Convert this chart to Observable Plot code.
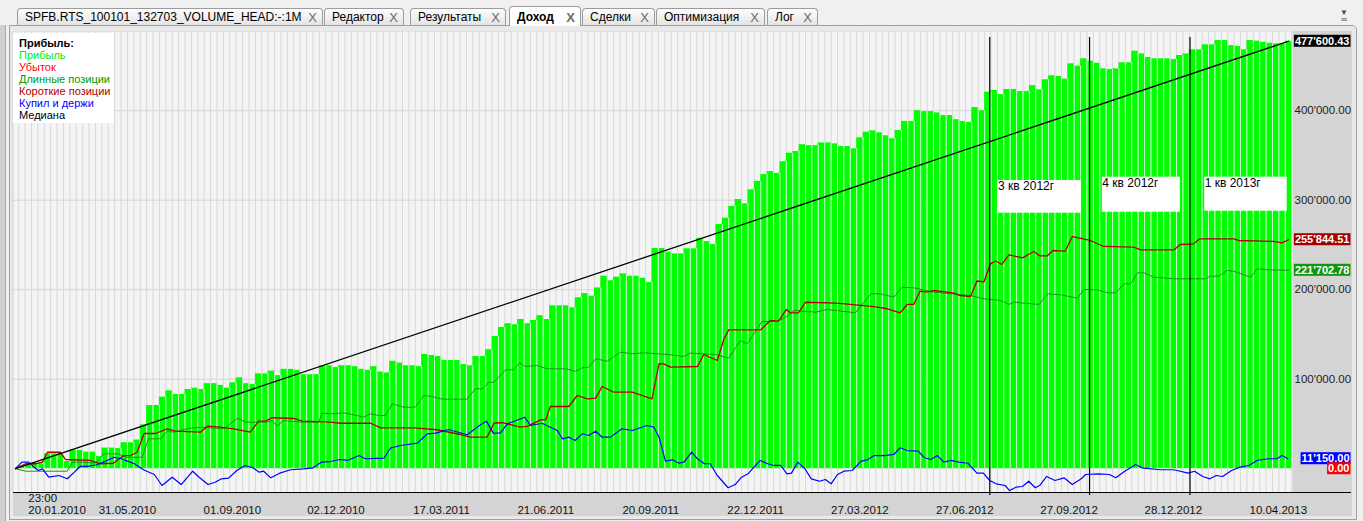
<!DOCTYPE html>
<html><head><meta charset="utf-8">
<script src="https://cdn.jsdelivr.net/npm/d3@7"></script>
<script src="https://cdn.jsdelivr.net/npm/@observablehq/plot@0.6"></script>
<style>
html,body{margin:0;padding:0}
body{width:1363px;height:521px;overflow:hidden;background:#f0f0f0;font-family:"Liberation Sans",Arial,sans-serif;position:relative}
.tab{position:absolute;top:8px;height:17px;border:1px solid #9c9c9c;border-bottom:none;background:linear-gradient(#fdfdfd,#e4e4e4);font-size:12px;line-height:17px;padding-left:7px;box-sizing:border-box;color:#000;border-radius:4px 4px 0 0;white-space:nowrap}
.tab .x{position:absolute;right:5px;top:0;color:#6a6a6a;font-size:13px}
.tab.active{top:6px;height:20px;background:#fff;font-weight:bold;line-height:21px;z-index:2}
#panel{position:absolute;left:9px;top:25px;width:1348px;height:495px;border:1px solid #a0a0a0;box-sizing:border-box;background:#e9e9e9;border-radius:0 5px 0 0}
#leftbar{position:absolute;left:0;top:25px;width:5px;height:496px;background:#d0d0d0;border-right:1px solid #a8a8a8}
#chart{position:absolute;left:13px;top:31px}
#axisline{position:absolute;left:13px;top:492px;width:1338px;height:1px;background:#000}
#legend{position:absolute;left:13px;top:33px;width:101px;height:90px;background:#fff;font-size:11px;line-height:12px;padding:4px 0 0 6px;box-sizing:border-box;white-space:nowrap}
#menu{position:absolute;left:1340px;top:9px;font-size:8px;color:#444;line-height:7px;text-align:center}
</style></head>
<body>
<div id="leftbar"></div>
<div id="panel"></div>
<div id="tabs"></div>
<div id="menu">▼<br>═</div>
<div id="chart"></div>
<div id="axisline"></div>
<div id="legend"></div>
<script>
// ---------- data ----------
const tabNames = ["SPFB.RTS_100101_132703_VOLUME_HEAD:-:1M","Редактор","Результаты","Доход","Сделки","Оптимизация","Лог"];
const activeTab = "Доход";

const legendTitle = "Прибыль:";
const seriesNames = ["Прибыль","Убыток","Длинные позиции","Короткие позиции","Купил и держи","Медиана"];

// Profit bars (thousands), one per period
const profitK = [
 0, 2, 4, 6, 5.5, 16.6, 16.6, 16.6, 8, 20.5,
 20.5, 18.5, 18.5, 13.6, 23, 23, 22.5, 29, 29, 32,
 49, 70.6, 70.6, 80, 87, 83, 83, 88.5, 90, 88.5,
 95, 95, 93, 90, 96, 101.5, 95, 94, 106, 106,
 109, 104, 111, 111, 110, 105, 105, 105, 115, 115,
 113, 115, 115, 114, 111, 110, 114, 108, 107, 120,
 118, 115, 115, 114, 127.6, 126.5, 125.4, 121, 121, 121,
 116.4, 115, 125.4, 125.4, 133, 147.7, 157.8, 162, 160.8, 166.7,
 162, 165.6, 171, 166.7, 182, 182, 182, 179.7, 191, 195.7,
 192.7, 202, 215, 210, 214, 217.7, 215, 215, 212.8, 208,
 246, 246, 242, 240, 240, 245.7, 245.7, 257.5, 253.8, 250.5,
 272.8, 279.9, 293, 300.8, 296, 311.6, 321, 328.7, 332, 330,
 343, 352.5, 354.4, 362, 361, 361, 364, 364, 363, 360,
 360, 357.4, 369.7, 376, 377.5, 375.3, 372, 368.6, 377.9, 388,
 388, 400, 399, 399, 397.6, 394.6, 394.6, 390, 388, 387,
 403.5, 400, 420.7, 422.6, 418, 423.7, 423.7, 421.5, 421.5, 428,
 423.3, 434.5, 439, 438.2, 435.2, 452.4, 449.7, 458, 455.3, 453,
 446.8, 446, 446.8, 453.5, 453.5, 466.5, 463.5, 459.4, 458, 458,
 458, 457.2, 461.7, 463.5, 468, 468, 473.6, 473.6, 478.4, 478.4,
 472.8, 471.7, 468, 478.4, 477.7, 476.5, 475.4, 474.7, 474.7, 477.6
];

// Short positions (dark red)
const shortIdx = [0,1.6,3.1,4.2,5.0,7.0,7.8,11.7,13.3,15.3,16.9,18.0,19.0,20.1,21.9,23.7,25.0,28.9,30.0,32.0,34.1,36.7,38.0,39.1,40.1,43.5,44.8,49.2,50.8,55.5,57.1,62.3,65.9,69.6,71.1,73.7,74.8,76.1,78.9,80.0,82.1,82.9,83.6,86.5,87.8,89.4,90.7,91.7,93.5,96.4,99.5,100.6,101.3,102.4,106.6,107.6,109.7,110.7,111.5,116.5,118.0,119.3,120.5,121.1,122.4,123.5,128.4,134.2,136.3,138.3,139.4,140.4,141.4,142.5,143.6,146.7,147.7,149.3,150.3,151.4,152.4,153.2,154.2,155.3,157.4,159.2,160.1,161.3,162.2,164.1,165.2,166.9,168.0,170.1,174.8,175.9,181.1,182.1,184.2,185.1,190.5,191.2,196.7,198.0,199.0];
const shortVal = [0,5.5,5.5,7.3,18.4,18.4,10.3,9.2,5.5,6.1,14.7,14.7,18.4,39.3,39.3,44.6,41.9,40.8,47.5,46.4,44.6,40.8,53.1,53.1,56.9,56.1,53.1,52.0,50.8,50.8,45.7,45.7,43.5,38.2,35.2,35.2,50.8,51.6,46.4,47.2,54.6,54.6,69.5,69.5,81.8,78.1,78.8,91.8,85.5,85.5,78.1,117.5,117.2,113.4,114.2,127.6,120.9,144.0,155.2,155.2,165.6,164.8,177.9,174.2,174.2,186.0,184.9,181.2,178.7,174.2,183.5,183.5,198.3,197.2,199.1,196.1,193.5,192.4,209.7,208.8,228.9,232.1,228.2,239.0,235.6,242.7,237.9,237.9,243.8,243.0,259.4,256.9,255.0,248.3,247.5,244.6,244.6,250.5,251.3,256.9,256.9,255.0,253.9,252.4,255.8];

// Long positions (green)
const longIdx = [0,1.6,8.1,8.9,10.7,12.5,13.8,16.1,17.2,19.8,20.8,22.7,23.7,24.7,26.8,28.9,32.6,34.7,36.0,39.3,40.1,40.9,41.9,44.6,47.4,47.9,49.8,51.3,53.4,54.4,55.5,56.8,57.8,58.9,60.7,62.5,63.8,64.9,66.7,70.6,71.9,73.0,74.0,74.8,76.6,77.9,78.8,79.7,81.6,83.1,86.0,87.5,88.6,89.6,90.7,92.5,94.6,96.4,98.2,100.3,102.4,104.5,105.5,109.4,111.5,113.3,114.4,116.7,119.1,120.4,121.7,125.1,126.9,131.3,133.7,135.2,137.3,138.6,140.4,143.6,149.3,151.4,154.0,155.3,156.1,160.0,161.3,163.4,166.0,167.0,169.1,170.7,172.0,173.3,174.3,175.4,176.4,177.9,181.1,186.0,186.8,188.1,189.4,190.4,193.1,194.1,195.7,199.0];
const longVal = [0,-2.8,-2.8,7.3,7.3,6.1,16.6,16.6,12.8,12.8,33.4,33.4,41.9,40.8,44.6,46.4,44.6,56.4,52.0,52.0,53.9,47.5,53.9,52.0,52.0,62.0,61.3,62.5,59.4,57.5,61.3,59.4,59.4,72.5,68.7,68.7,81.8,81.0,77.7,77.7,89.3,89.3,96.6,96.6,110.5,110.5,118.3,114.2,115.3,111.6,111.6,108.9,112.7,113.4,122.8,120.1,130.2,128.4,129.5,128.4,127.3,125.4,129.1,127.6,123.5,143.2,139.6,164.5,164.5,169.3,176.8,174.9,177.9,174.2,195.4,195.4,191.6,202.8,202.1,197.2,193.5,189.8,187.9,183.5,186.0,183.5,195.4,194.3,190.5,200.2,199.9,196.5,196.5,206.6,206.6,218.9,218.9,214.0,212.2,212.2,215.1,215.1,221.5,220.7,214.0,223.4,222.2,221.7];

// Buy and hold (blue)
const bahIdx = [0,1.0,2.1,2.9,3.6,4.2,5.2,6.8,8.1,9.2,10.1,11.3,12.7,14.1,15.4,16.5,17.5,18.6,20.0,21.7,22.9,24.5,25.9,27.7,28.7,30.1,31.2,32.2,33.3,34.6,35.9,37.1,38.1,38.8,39.9,41.3,43.0,45.1,46.5,47.8,49.2,50.8,51.9,53.7,54.7,57.6,58.6,60.2,62.8,64.4,65.7,67.7,70.6,72.7,73.6,74.7,75.8,76.9,79.6,80.5,82.3,84.7,85.5,86.5,87.5,88.6,89.6,90.7,91.7,93.0,94.8,96.4,98.7,99.8,100.6,101.6,102.7,103.7,104.5,105.7,106.6,107.7,108.6,109.7,111.4,112.5,113.5,114.5,116.4,117.6,118.6,119.6,120.6,121.3,122.3,123.4,124.4,125.7,126.6,127.5,128.5,129.5,130.8,132.2,133.2,134.2,135.9,137.3,138.3,139.4,141.1,142.1,143.1,144.1,145.1,146.2,147.5,148.9,150.3,151.3,152.3,153.3,154.7,155.4,156.4,157.4,158.4,159.4,160.1,161.2,162.5,163.9,165.2,166.6,167.3,169.3,171.0,172.0,173.4,175.1,176.1,178.9,180.9,181.6,183.3,184.3,185.6,186.7,187.7,188.7,190.1,191.4,192.8,194.1,195.8,197.2,198.0,198.9];
const bahVal = [0,7.3,7.3,1.7,-2.0,-0.1,-9.5,-7.6,-11.3,-3.9,2.5,2.5,4.4,8.4,12.8,11.1,8.4,5.5,-1.2,-6.5,-18.8,-9.5,-17.7,-2.8,-9.5,-17.7,-15.1,-11.3,-10.6,-2.0,3.6,1.0,-3.9,-2.8,-10.2,-5.0,-1.2,-0.1,1.0,7.3,8.0,10.3,9.2,14.7,11.1,11.7,22.9,25.9,28.5,39.0,39.7,43.8,37.9,49.1,53.1,39.7,40.1,50.2,57.5,48.3,50.8,42.7,33.4,35.2,31.5,39.0,37.1,41.9,35.2,35.2,44.6,42.7,48.3,46.4,35.2,8.4,9.9,6.1,7.3,18.4,11.1,5.5,5.5,-7.6,-21.3,-17.7,-9.5,-5.7,9.2,5.5,3.6,3.6,-5.7,-5.0,7.3,-0.1,-11.3,-14.0,-12.1,-16.9,-6.5,-2.8,-2.0,8.4,9.9,14.7,14.7,15.9,23.4,20.3,19.6,12.2,10.3,14.7,7.3,9.2,7.3,6.1,-5.0,-5.0,-13.2,-16.9,-18.8,-24.4,-20.7,-19.9,-14.0,-21.3,-18.8,-8.7,-13.2,-10.2,-17.7,-11.3,-6.5,-5.7,-6.5,-10.2,-2.8,4.7,1.0,-1.2,-1.2,-2.0,-5.0,-2.8,-8.7,-11.3,-7.6,-8.7,-2.0,1.7,3.6,9.2,11.1,11.1,14.7,11.15];

// Median (straight line from start to end)
const medianIdx = [0, 199];
const medianVal = [0, 477.6];

// Final values shown in the right-hand tags
const tagSeries = ["Медиана","Короткие позиции","Длинные позиции","Купил и держи","Убыток"];
const tagValues = [477600.43, 255844.51, 221702.78, 11150.00, 0.00];

// Axes
const yTicksK = [100, 200, 300, 400];
const firstDate = "20.01.2010";
const firstTime = "23:00";
const firstDateIdx = 2;
const dateLabels = ["31.05.2010","01.09.2010","02.12.2010","17.03.2011","21.06.2011","20.09.2011","22.12.2011","27.03.2012","27.06.2012","27.09.2012","28.12.2012","10.04.2013"];
const dateIdx = [17.5,33.9,50.1,66.6,82.9,99.3,115.7,132,148.4,164.7,181,197.4];

// Quarter separators and labels
const quarterIdx = [152.3, 167.9, 183.6];
const annLabels = ["3 кв 2012г","4 кв 2012г","1 кв 2013г"];
const annX1 = [153.6, 169.9, 185.9];
const annX2 = [166.6, 182.1, 198.8];
const annTop = [322, 325.7, 325.7];
const annBottom = [285.5, 286.6, 287.7];

// ---------- styles ----------
const colors = {
  "Прибыль": "#00ff00",
  "Убыток": "#ff0000",
  "Длинные позиции": "#179417",
  "Короткие позиции": "#b00000",
  "Купил и держи": "#0000ff",
  "Медиана": "#000000"
};
const tagColors = {
  "Медиана": "#000000",
  "Короткие позиции": "#a00000",
  "Длинные позиции": "#129612",
  "Купил и держи": "#0000ff",
  "Убыток": "#ff0000"
};
const legendColors = {
  "Прибыль": "#00ee00",
  "Убыток": "#ff0000",
  "Длинные позиции": "#009900",
  "Короткие позиции": "#b00000",
  "Купил и держи": "#0000ff",
  "Медиана": "#000000"
};

// ---------- helpers ----------
function fmt(v) {
  const s = Math.abs(v).toFixed(2);
  let [ip, fp] = s.split(".");
  ip = ip.replace(/\B(?=(\d{3})+(?!\d))/g, "'");
  return (v < 0 ? "-" : "") + ip + "." + fp;
}
const pts = (xs, ys) => xs.map((x, i) => ({x, y: ys[i]}));

// ---------- tabs ----------
const tabBounds = [[17,323],[324,404],[410,506],[509,581],[582,655],[656,765],[767,818]];
const tabsDiv = document.getElementById("tabs");
tabNames.forEach((name, i) => {
  const d = document.createElement("div");
  d.className = "tab" + (name === activeTab ? " active" : "");
  d.style.left = tabBounds[i][0] + "px";
  d.style.width = (tabBounds[i][1] - tabBounds[i][0]) + "px";
  d.innerHTML = "<span></span><span class='x'>X</span>";
  d.firstChild.textContent = name;
  tabsDiv.appendChild(d);
});

// ---------- legend ----------
const leg = document.getElementById("legend");
const lt = document.createElement("div");
lt.style.fontWeight = "bold";
lt.textContent = legendTitle;
leg.appendChild(lt);
seriesNames.forEach(n => {
  const d = document.createElement("div");
  d.style.color = legendColors[n];
  d.textContent = n;
  leg.appendChild(d);
});

// ---------- chart ----------
const bars = profitK.map((v, i) => ({i, v}));
const boundaries = d3.range(-0.5, profitK.length, 1);
const gaps = d3.range(0, profitK.length - 1).map(i => ({x: i + 0.5, h: Math.min(profitK[i], profitK[i + 1])}));
const anns = annLabels.map((label, i) => ({label, x1: annX1[i], x2: annX2[i], top: annTop[i], bottom: annBottom[i]}));
const tags = tagSeries.map((s, i) => ({s, v: tagValues[i]}));

const plot = Plot.plot({
  width: 1339,
  height: 485,
  marginLeft: 0,
  marginRight: 60,
  marginTop: 0,
  marginBottom: 24,
  x: {type: "linear", domain: [-0.3126, 199.625], axis: null},
  y: {domain: [-26.6, 488.5], axis: null},
  style: {background: "#d4d4d4", fontFamily: '"Liberation Sans", Arial, sans-serif', fontSize: "11.5px", overflow: "visible"},
  marks: [
    Plot.frame({fill: "#f4f4f4", stroke: "none"}),
    Plot.ruleX(boundaries, {stroke: "#d9d9d9", strokeWidth: 1}),
    Plot.ruleY(yTicksK, {stroke: "#d6d6d6", strokeWidth: 1}),
    Plot.rect(bars, {x1: d => d.i - 0.5, x2: d => d.i + 0.5, y1: () => 0, y2: "v", fill: colors["Прибыль"]}),
    Plot.ruleX(gaps, {x: "x", y1: () => 0, y2: "h", stroke: "#ccfacc", strokeWidth: 1}),
    Plot.line(pts(longIdx, longVal), {x: "x", y: "y", stroke: colors["Длинные позиции"], strokeWidth: 1}),
    Plot.line(pts(shortIdx, shortVal), {x: "x", y: "y", stroke: colors["Короткие позиции"], strokeWidth: 1.3}),
    Plot.line(pts(bahIdx, bahVal), {x: "x", y: "y", stroke: colors["Купил и держи"], strokeWidth: 1.2}),
    Plot.line(pts(medianIdx, medianVal), {x: "x", y: "y", stroke: colors["Медиана"], strokeWidth: 1.3}),
    Plot.ruleX(quarterIdx, {stroke: "#000", strokeWidth: 1.2, insetTop: 6, insetBottom: -3}),
    Plot.rect(anns, {x1: "x1", x2: "x2", y1: "bottom", y2: "top", fill: "#ffffff"}),
    Plot.text(anns, {x: "x1", y: "top", text: "label", textAnchor: "start", lineAnchor: "top", dy: 1, fontSize: 12, fill: "#000"}),
    Plot.axisY({anchor: "right", ticks: yTicksK, tickFormat: v => fmt(v * 1000), tickSize: 0, tickPadding: 2, label: null, fill: "#1e1e1e", fontSize: 11.5}),
    Plot.text(dateLabels.map((t, i) => ({t, x: dateIdx[i]})), {x: "x", text: "t", frameAnchor: "bottom", dy: 21, fill: "#111", fontSize: 11.5}),
    Plot.text([firstDate], {x: () => firstDateIdx, text: d => d, frameAnchor: "bottom", dy: 21, textAnchor: "start", fill: "#111", fontSize: 11.5}),
    Plot.text([firstTime], {x: () => firstDateIdx, text: d => d, frameAnchor: "bottom", dy: 9, textAnchor: "start", fill: "#111", fontSize: 11.5}),
    Plot.text(tags, {y: d => d.v / 1000, text: d => fmt(d.v), frameAnchor: "right", dx: 57, textAnchor: "end", fill: "#ffffff", fontSize: 11, fontWeight: "bold"})
  ]
});
document.getElementById("chart").appendChild(plot);

// backgrounds behind the value tags (found by their text; same transform as the text)
const tagTexts = tags.map(d => fmt(d.v));
d3.select(plot).selectAll("text").each(function() {
  const k = tagTexts.indexOf(this.textContent);
  if (k < 0) return;
  const bb = this.getBBox();
  const cy = bb.y + bb.height / 2;
  const r = document.createElementNS("http://www.w3.org/2000/svg", "rect");
  r.setAttribute("x", bb.x - 1);
  r.setAttribute("y", cy - 6);
  r.setAttribute("width", bb.width + 2);
  r.setAttribute("height", 12);
  r.setAttribute("fill", tagColors[tags[k].s]);
  const tr = this.getAttribute("transform");
  if (tr) r.setAttribute("transform", tr);
  this.parentNode.insertBefore(r, this);
});
</script>
</body></html>
